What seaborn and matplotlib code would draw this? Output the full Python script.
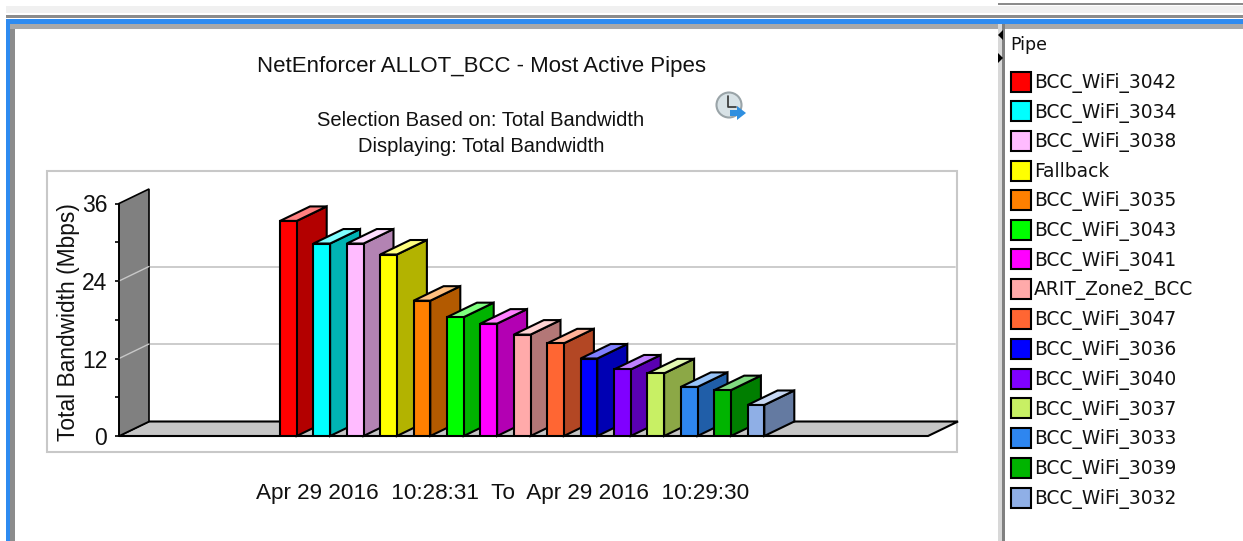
import pandas as pd
import seaborn as sns
import matplotlib.pyplot as plt
from matplotlib.colors import to_rgb
from matplotlib.patches import Circle, Polygon, Rectangle

pipes = ['BCC_WiFi_3042', 'BCC_WiFi_3034', 'BCC_WiFi_3038', 'Fallback', 'BCC_WiFi_3035',
         'BCC_WiFi_3043', 'BCC_WiFi_3041', 'ARIT_Zone2_BCC', 'BCC_WiFi_3047', 'BCC_WiFi_3036',
         'BCC_WiFi_3040', 'BCC_WiFi_3037', 'BCC_WiFi_3033', 'BCC_WiFi_3039', 'BCC_WiFi_3032']
bandwidth = [33.3, 29.8, 29.8, 28.1, 20.95, 18.4, 17.4, 15.7, 14.35, 12.0, 10.3, 9.7, 7.6, 7.1, 4.8]
colors = ['#ff0000', '#00ffff', '#ffbbff', '#ffff00', '#ff8000', '#00ff00', '#ff00ff', '#ffaaaa',
          '#ff6633', '#0000ff', '#8000ff', '#c8f064', '#2e86f0', '#00b400', '#8fafe6']
major_ticks = [0, 12, 24, 36]
minor_ticks = [6, 18, 30]

W, H = 1243, 541
# pixel position of the plot's front plane
X0, X1, Y0, Y36 = 119, 928, 436, 203.5
BAR_STEP, BAR_LEFT = 33.4, 280
DEPTH_X, DEPTH_Y = 30, 14.5

sns.set_theme(style='white')
plt.rcParams['font.family'] = ['Liberation Sans', 'DejaVu Sans']

fig = plt.figure(figsize=(W / 100, H / 100), dpi=100, facecolor='white')

# window chrome, in pixels
bg = fig.add_axes([0, 0, 1, 1], zorder=0)
bg.set_xlim(0, W)
bg.set_ylim(H, 0)
bg.axis('off')
bg.add_patch(Rectangle((6, 6), W - 6, 7, color='#f0f0f0', lw=0))
bg.add_patch(Rectangle((6, 15), W - 6, 3, color='#8c8c8c', lw=0))
bg.add_patch(Rectangle((6, 19), W - 6, 5, color='#2e8bf0', lw=0))
bg.add_patch(Rectangle((6, 19), 4, H - 19, color='#2e8bf0', lw=0))
bg.add_patch(Rectangle((10, 24), 5, H - 24, color='#8c8c8c', lw=0))
bg.add_patch(Rectangle((10, 24), W - 10, 5, color='#a8a8a8', lw=0))
bg.add_patch(Rectangle((998, 3), W - 998, 1.5, color='#8c8c8c', lw=0))
bg.add_patch(Rectangle((998, 24), 4, H - 24, color='#d8d8d8', lw=0))
bg.add_patch(Rectangle((1002, 24), 3, H - 24, color='#808080', lw=0))
bg.add_patch(Rectangle((1005, 29), W - 1005, H - 29, color='white', lw=0))
bg.add_patch(Rectangle((47.5, 170.5), 910, 281, fc='white', ec='#c8c8c8', lw=1.5))
bg.add_patch(Polygon([(1003, 30), (1003, 40), (998, 35)], color='black', lw=0))
bg.add_patch(Polygon([(998, 53), (998, 63), (1003, 58)], color='black', lw=0))

# refresh icon
bg.add_patch(Circle((729, 105), 12.5, fc='#d8e2e6', ec='#9aa4a8', lw=1.5))
bg.plot([728, 728, 736], [96, 107, 107], color='#333333', lw=1.2)
bg.add_patch(Polygon([(730, 110), (737, 110), (737, 106), (746, 113), (737, 120), (737, 116), (730, 116)],
                     color='#2f8fe0', lw=0))

bg.text(482, 66.5, 'NetEnforcer ALLOT_BCC - Most Active Pipes', ha='center', va='center', fontsize=16, color='#111111')
bg.text(481, 121, 'Selection Based on: Total Bandwidth', ha='center', va='center', fontsize=14.5, color='#111111')
bg.text(481, 147, 'Displaying: Total Bandwidth', ha='center', va='center', fontsize=14.5, color='#111111')
bg.text(503, 494, 'Apr 29 2016  10:28:31  To  Apr 29 2016  10:29:30', ha='center', va='center', fontsize=16.2, color='#111111')
bg.text(1010, 45, 'Pipe', ha='left', va='center', fontsize=12.5, family=['DejaVu Sans'], color='#111111')

# chart
ax = fig.add_axes([X0 / W, 1 - Y0 / H, (X1 - X0) / W, (Y0 - Y36) / H], zorder=1)
ax.patch.set_alpha(0)

df = pd.DataFrame({'Pipe': pipes, 'Bandwidth': bandwidth})
sns.barplot(data=df, x='Pipe', y='Bandwidth', hue='Pipe', palette=colors, order=pipes, hue_order=pipes,
            width=0.5, dodge=False, saturation=1, edgecolor='black', linewidth=1.5, legend=True, ax=ax)

first = (BAR_LEFT + 8.35 - X0) / BAR_STEP
ax.set_xlim(-first, (X1 - X0) / BAR_STEP - first)
ax.set_ylim(0, 36)
dx = DEPTH_X / BAR_STEP
dy = DEPTH_Y * 36 / (Y0 - Y36)
xmin, xmax = ax.get_xlim()

# floor, wall and gridlines on the back plane
ax.add_patch(Polygon([(xmin, 0), (xmax, 0), (xmax + dx, dy), (xmin + dx, dy)], fc='#c6c6c6', ec='black',
                     lw=1.5, clip_on=False, zorder=1))
ax.add_patch(Polygon([(xmin, 0), (xmin + dx, dy), (xmin + dx, 36 + dy), (xmin, 36)], fc='#808080', ec='black',
                     lw=1.2, clip_on=False, zorder=1))
for t in major_ticks[1:3]:
    ax.plot([xmin + dx, xmax + dx - 0.1], [t + dy, t + dy], color='#c8c8c8', lw=1.3, clip_on=False, zorder=0.5)
    ax.plot([xmin, xmin + dx], [t, t + dy], color='#c8c8c8', lw=1, clip_on=False, zorder=1.5)

# side and top faces from the drawn bars
i = 0
for container in ax.containers:
    for bar in container:
        if bar.get_height() != bar.get_height():
            continue
        x = bar.get_x()
        w = bar.get_width()
        h = bar.get_height()
        rgb = to_rgb(bar.get_facecolor())
        side = tuple(c * 0.7 for c in rgb)
        top = tuple(c * 0.5 + 0.5 for c in rgb)
        z = 3 + i * 2
        ax.add_patch(Polygon([(x + w, 0), (x + w + dx, dy), (x + w + dx, h + dy), (x + w, h)], fc=side, ec='black',
                             lw=1.5, clip_on=False, zorder=z))
        ax.add_patch(Polygon([(x, h), (x + dx, h + dy), (x + w + dx, h + dy), (x + w, h)], fc=top, ec='black',
                             lw=1.5, clip_on=False, zorder=z))
        bar.set_zorder(z + 1)
        i += 1

ax.set_xticks([])
ax.set_xlabel('')
ax.set_yticks(major_ticks)
ax.set_yticks(minor_ticks, minor=True)
ax.tick_params(axis='y', which='both', left=True, direction='inout', length=6, width=1.2, color='black')
ax.tick_params(axis='y', which='major', pad=5.5, labelsize=16.5, labelcolor='#111111')
ax.set_ylabel('Total Bandwidth (Mbps)', fontsize=16.4, color='#111111')
ax.yaxis.set_label_coords((80 - X0) / (X1 - X0), (Y0 - 322) / (Y0 - Y36))
sns.despine(ax=ax, top=True, right=True, bottom=True)
ax.spines['left'].set_color('black')
ax.spines['left'].set_linewidth(1.2)

sns.move_legend(ax, 'upper left', bbox_to_anchor=(1011 / W, 1 - 71.5 / H), bbox_transform=fig.transFigure, title=None,
                frameon=False, ncol=1, handlelength=1.075, handleheight=1.277, handletextpad=0.15,
                labelspacing=0.46, borderpad=0, borderaxespad=0, labelcolor='#111111',
                prop={'family': ['DejaVu Sans'], 'size': 13.4})

fig.savefig('out.png', dpi=100)
